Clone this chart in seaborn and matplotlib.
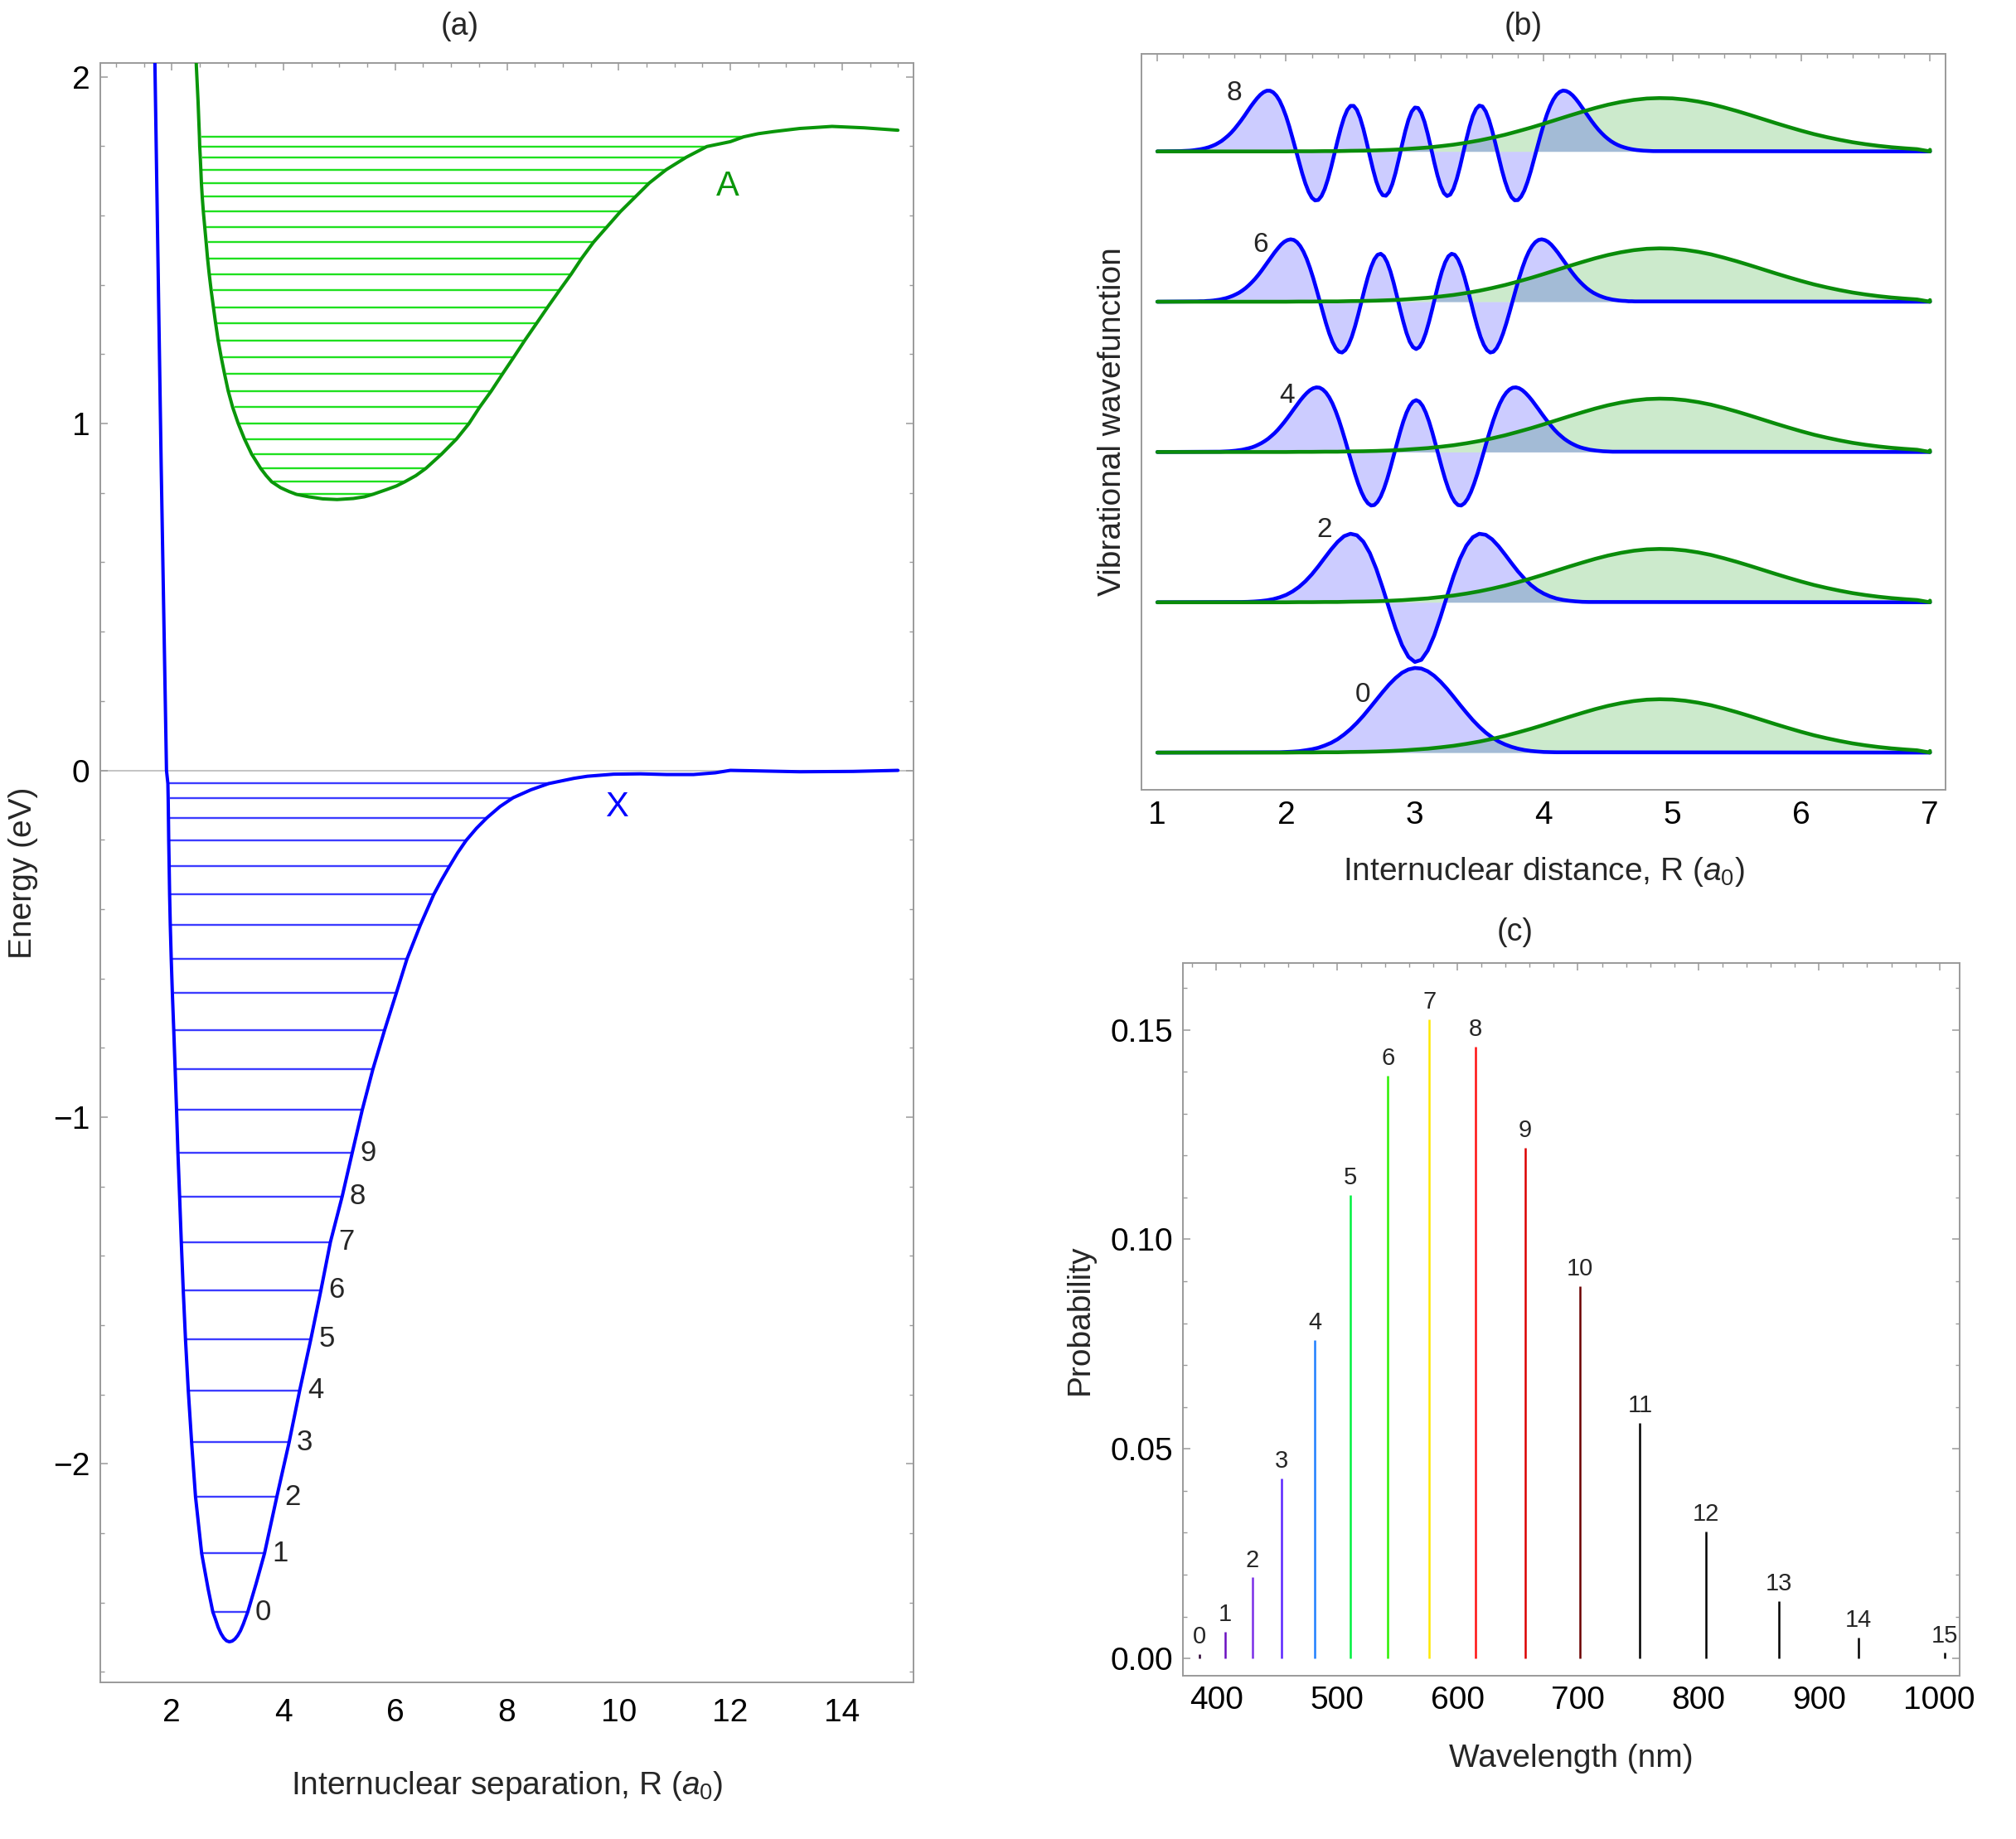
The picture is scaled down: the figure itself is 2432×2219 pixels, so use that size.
import numpy as np
import matplotlib
matplotlib.use("Agg")
import matplotlib.pyplot as plt
import seaborn as sns
from matplotlib.ticker import MultipleLocator, FormatStrFormatter

sns.set_theme(style="white")
plt.rcParams["font.family"] = ["Liberation Sans", "DejaVu Sans"]
plt.rcParams["mathtext.fontset"] = "custom"
plt.rcParams["mathtext.rm"] = "Liberation Sans"
plt.rcParams["mathtext.it"] = "Liberation Sans:italic"

FRAME = "#9a9a9a"

# ---- panel (a): X state (energy in eV, R in a0) ----
x_level_E = [-2.427, -2.258, -2.095, -1.938, -1.788, -1.640, -1.499, -1.360, -1.229, -1.103, -0.979,
             -0.862, -0.749, -0.642, -0.544, -0.446, -0.358, -0.277, -0.202, -0.137, -0.079, -0.038]
x_level_rin = [2.76, 2.56, 2.45, 2.38, 2.32, 2.27, 2.23, 2.195, 2.165, 2.135, 2.11,
               2.085, 2.06, 2.035, 2.015, 1.998, 1.986, 1.978, 1.97, 1.965, 1.96, 1.955]
x_level_rout = [3.36, 3.66, 3.88, 4.10, 4.29, 4.49, 4.67, 4.84, 5.05, 5.23, 5.41,
                5.60, 5.81, 6.02, 6.21, 6.45, 6.69, 6.97, 7.27, 7.64, 8.11, 8.75]
x_curve_R = [1.69, 1.81, 1.905, 1.93, 1.935, 1.94, 1.945, 1.953, 1.961, 1.973, 1.99, 2.01, 2.035, 2.06,
             2.085, 2.11, 2.14, 2.17, 2.205, 2.245, 2.295, 2.355, 2.425, 2.535, 2.65, 2.735, 2.78, 2.83,
             2.88, 2.93, 2.98, 3.03, 3.08, 3.13, 3.18, 3.23, 3.28, 3.33, 3.36, 3.51, 3.66, 3.88, 4.10,
             4.29, 4.49, 4.67, 4.84, 5.05, 5.23, 5.41, 5.60, 5.81, 6.02, 6.21, 6.45, 6.69, 6.83, 6.97,
             7.12, 7.27, 7.455, 7.64, 7.875, 8.11, 8.43, 8.75, 8.96, 9.2, 9.44, 9.91, 10.39, 10.86,
             11.34, 11.73, 12.0, 12.33, 13.24, 14.2, 15.0]
x_curve_E = [2.12, 0.88, 0.0, -0.038, -0.079, -0.137, -0.202, -0.277, -0.358, -0.446, -0.544, -0.642,
             -0.749, -0.862, -0.979, -1.103, -1.229, -1.360, -1.499, -1.640, -1.788, -1.938, -2.095,
             -2.258, -2.36, -2.427, -2.447, -2.471, -2.489, -2.502, -2.510, -2.513, -2.511, -2.505,
             -2.495, -2.481, -2.462, -2.440, -2.427, -2.345, -2.258, -2.095, -1.938, -1.788, -1.640,
             -1.499, -1.360, -1.229, -1.103, -0.979, -0.862, -0.749, -0.642, -0.544, -0.446, -0.358,
             -0.316, -0.277, -0.237, -0.202, -0.167, -0.137, -0.1045, -0.079, -0.056, -0.038, -0.031,
             -0.023, -0.017, -0.011, -0.010, -0.012, -0.012, -0.007, 0.0, -0.001, -0.004, -0.003, 0.0]

# ---- panel (a): A state ----
a_level_E = [0.796, 0.832, 0.871, 0.912, 0.956, 1.000, 1.047, 1.094, 1.143, 1.191, 1.240, 1.289, 1.336,
             1.384, 1.431, 1.477, 1.523, 1.567, 1.611, 1.654, 1.694, 1.732, 1.768, 1.799, 1.827]
a_level_rin = [4.26, 3.82, 3.62, 3.46, 3.33, 3.22, 3.12, 3.04, 2.975, 2.915, 2.86, 2.815, 2.775,
               2.735, 2.70, 2.67, 2.645, 2.62, 2.595, 2.575, 2.56, 2.55, 2.54, 2.532, 2.525]
a_level_rout = [5.60, 6.17, 6.55, 6.83, 7.10, 7.32, 7.51, 7.72, 7.92, 8.12, 8.32, 8.53, 8.73,
                8.94, 9.15, 9.34, 9.55, 9.79, 10.03, 10.30, 10.55, 10.85, 11.21, 11.58, 12.24]
a_curve_R = [2.42, 2.44, 2.47, 2.495, 2.50, 2.51, 2.52, 2.53, 2.545, 2.565, 2.59, 2.615, 2.64, 2.67,
             2.705, 2.745, 2.785, 2.83, 2.885, 2.945, 3.01, 3.09, 3.19, 3.30, 3.43, 3.59, 3.69, 3.79,
             3.95, 4.10, 4.23, 4.45, 4.70, 4.96, 5.25, 5.45, 5.60, 5.85, 6.02, 6.17, 6.37, 6.55, 6.83,
             7.10, 7.32, 7.51, 7.72, 7.92, 8.12, 8.32, 8.53, 8.73, 8.94, 9.15, 9.34, 9.55, 9.79, 10.03,
             10.30, 10.55, 10.85, 11.21, 11.58, 12.0, 12.24, 12.5, 12.77, 13.24, 13.82, 14.39, 15.0]
a_curve_E = [2.12, 2.03, 1.93, 1.827, 1.799, 1.768, 1.732, 1.694, 1.654, 1.611, 1.567, 1.523, 1.477,
             1.431, 1.384, 1.336, 1.289, 1.240, 1.191, 1.143, 1.094, 1.047, 1.000, 0.956, 0.912, 0.871,
             0.850, 0.832, 0.815, 0.804, 0.796, 0.789, 0.783, 0.781, 0.784, 0.789, 0.796, 0.810, 0.820,
             0.832, 0.850, 0.871, 0.912, 0.956, 1.000, 1.047, 1.094, 1.143, 1.191, 1.240, 1.289, 1.336,
             1.384, 1.431, 1.477, 1.523, 1.567, 1.611, 1.654, 1.694, 1.732, 1.768, 1.799, 1.813, 1.827,
             1.836, 1.842, 1.851, 1.857, 1.853, 1.846]

# ---- panel (b): wavefunctions read on a regular R grid, in thousandths of the row spacing ----
v0_start, v0_step = 1.95, 0.05
v0_vals = [2, 4, 6, 9, 15, 22, 32, 47, 65, 89, 120, 156, 198, 245, 297, 350, 403, 453, 496, 531, 553,
           563, 559, 541, 511, 471, 424, 372, 318, 266, 216, 172, 133, 101, 74, 54, 38, 26, 17, 11, 7, 4, 3, 2]
v2_start, v2_step = 1.65, 0.05
v2_vals = [2, 3, 5, 8, 13, 21, 33, 49, 72, 102, 140, 186, 239, 296, 352, 402, 440, 456, 446, 403, 328,
           223, 96, -41, -173, -285, -363, -397, -383, -321, -221, -95, 42, 174, 289, 377, 433, 456, 449,
           419, 373, 318, 261, 206, 158, 116, 83, 58, 39, 25, 16, 10, 6, 3, 2]
v4_start, v4_step = 1.46, 0.025
v4_vals = [2, 2, 3, 4, 5, 7, 9, 12, 15, 20, 25, 31, 39, 49, 60, 73, 88, 106, 125, 147,
           172, 198, 226, 255, 285, 314, 343, 369, 392, 411, 424, 430, 428, 416, 395, 364, 323, 272, 213, 146,
           75, 0, -74, -146, -211, -267, -311, -341, -356, -353, -332, -296, -244, -180, -106, -26, 54, 132, 203, 262,
           307, 335, 345, 335, 307, 262, 203, 132, 54, -26, -106, -180, -244, -296, -332, -353, -356, -341, -311, -267,
           -211, -146, -74, 0, 75, 146, 213, 272, 323, 364, 395, 416, 428, 430, 424, 411, 392, 369, 343, 314,
           285, 255, 226, 198, 172, 147, 125, 106, 88, 73, 60, 49, 39, 31, 25, 20, 15, 12, 9, 7,
           5, 4, 3, 2, 2]
v6_start, v6_step = 1.31, 0.025
v6_vals = [2, 3, 3, 5, 6, 8, 11, 14, 19, 24, 31, 39, 49, 60, 74, 90, 109, 130, 153, 179,
           207, 237, 267, 297, 327, 354, 379, 398, 410, 415, 411, 396, 370, 333, 285, 226, 159, 85, 8, -70,
           -144, -211, -267, -309, -333, -338, -322, -287, -234, -165, -86, -1, 85, 164, 231, 282, 312, 319, 302, 262,
           202, 126, 40, -49, -133, -208, -266, -302, -315, -302, -266, -208, -133, -49, 40, 126, 202, 262, 302, 319,
           312, 282, 231, 164, 85, -1, -86, -165, -234, -287, -322, -338, -333, -309, -267, -211, -144, -70, 8, 85,
           159, 226, 285, 333, 370, 396, 411, 415, 410, 398, 379, 354, 327, 297, 267, 237, 207, 179, 153, 130,
           109, 90, 74, 60, 49, 39, 31, 24, 19, 14, 11, 8, 6, 5, 3, 3, 2]
v8_start, v8_step = 1.175, 0.025
v8_vals = [2, 3, 4, 5, 7, 10, 13, 17, 22, 28, 36, 45, 57, 70, 87, 105, 126, 150, 177, 205,
           235, 267, 298, 327, 354, 377, 394, 404, 404, 393, 371, 337, 290, 233, 165, 89, 10, -70, -146, -214,
           -269, -308, -326, -323, -297, -250, -184, -105, -17, 72, 155, 225, 276, 303, 303, 276, 223, 150, 63, -30,
           -120, -199, -258, -291, -295, -270, -217, -142, -52, 43, 133, 210, 265, 292, 289, 256, 196, 116, 24, -71,
           -158, -229, -277, -297, -287, -248, -184, -103, -11, 81, 166, 236, 283, 305, 299, 267, 212, 139, 54, -35,
           -122, -199, -261, -304, -325, -324, -301, -260, -202, -132, -54, 26, 105, 179, 245, 301, 345, 377, 396, 405,
           402, 391, 373, 349, 321, 291, 260, 229, 199, 171, 145, 122, 101, 83, 67, 54, 43, 34, 27, 21,
           16, 12, 9, 7, 5, 4, 3, 2]
green_start, green_step = 1.0, 0.1
green_vals = [0, 0, 0, 0, 0, 0, 0, 0, 0, 0, 0, 1, 1, 2, 2, 4, 5, 7, 10, 14, 20, 26, 35, 45, 58, 73, 91, 111,
              134, 158, 184, 211, 238, 264, 289, 311, 329, 343, 352, 355, 353, 345, 332, 315, 293, 269, 243,
              216, 189, 163, 138, 115, 95, 77, 61, 48, 37, 28, 21, 15, 11]
wave_levels = [0, 2, 4, 6, 8]
wave_label_pos = [(2.598, 0.386), (2.295, 1.481), (2.004, 2.377), (1.802, 3.38), (1.599, 4.386)]

# ---- panel (c): Franck-Condon probabilities ----
wavelength = [385.8, 407.1, 430.2, 454.5, 481.7, 511.1, 542.5, 576.8, 614.9, 656.4,
              701.7, 751.6, 806.4, 866.8, 933.0, 1004.2]
probability = [0.0011, 0.0063, 0.0193, 0.0430, 0.0759, 0.1105, 0.1390, 0.1525, 0.1459, 0.1219,
               0.0889, 0.0562, 0.0303, 0.0136, 0.0049, 0.0013]
line_colors = ["#2a0033", "#6a10c0", "#7a2ee8", "#5a24ff", "#1f7fff", "#00f040", "#2cf000", "#ffe800",
               "#ff1010", "#dc0000", "#6b0000", "#000000", "#000000", "#000000", "#000000", "#000000"]


def wave(start, step, vals):
    # sampled points, with the flat zero tails out to R = 1 and R = 7
    r = start + step * np.arange(len(vals))
    return np.r_[1.0, r, 7.0], np.r_[0.0, np.array(vals) / 1000, 0.0]


def style(ax, yticks=True):
    for s in ax.spines.values():
        s.set_color(FRAME)
        s.set_linewidth(1.4)
    ax.tick_params(which="both", direction="in", top=True, right=yticks, left=yticks,
                   color=FRAME, labelsize=28, labelcolor="black")
    ax.tick_params(which="major", length=6.5, width=1.1, pad=9)
    ax.tick_params(which="minor", length=3.6, width=1.0)
    ax.grid(False)


fig = plt.figure(figsize=(24.32, 22.19), dpi=100)
ax_a = fig.add_axes([0.04975, 0.08517, 0.4034, 0.8806])
ax_b = fig.add_axes([0.5664, 0.5705, 0.3986, 0.4002])
ax_c = fig.add_axes([0.5869, 0.08887, 0.3852, 0.3876])

# Panel (a): potential curves and vibrational levels
ax_a.axhline(0, color="#b4b4b4", lw=1.1, zorder=0)
ax_a.hlines(x_level_E, x_level_rin, x_level_rout, color="#3c3cff", lw=1.7, zorder=2)
ax_a.hlines(a_level_E, a_level_rin, a_level_rout, color="#1fe01f", lw=1.7, zorder=2)
sns.lineplot(x=x_curve_R, y=x_curve_E, ax=ax_a, color="#0000ff", lw=2.9, sort=False, estimator=None, zorder=3)
sns.lineplot(x=a_curve_R, y=a_curve_E, ax=ax_a, color="#0a960a", lw=2.9, sort=False, estimator=None, zorder=3)
for v in range(10):
    ax_a.text(x_level_rout[v] + 0.28, x_level_E[v], str(v), fontsize=25, ha="center", va="center")
ax_a.text(11.95, 1.683, "A", color="#0a960a", fontsize=30, ha="center", va="center")
ax_a.text(9.97, -0.107, "X", color="#0000ff", fontsize=30, ha="center", va="center")
ax_a.set_xlim(0.72, 15.28)
ax_a.set_ylim(-2.63, 2.04)
ax_a.xaxis.set_major_locator(MultipleLocator(2))
ax_a.xaxis.set_minor_locator(MultipleLocator(0.5))
ax_a.yaxis.set_major_locator(MultipleLocator(1))
ax_a.yaxis.set_minor_locator(MultipleLocator(0.2))
style(ax_a)
ax_a.tick_params(axis="x", which="major", pad=14)

# Panel (b): stacked wavefunctions, X-state (blue) against A-state v=0 (green)
rg, gv = wave(green_start, green_step, green_vals)
curves = [wave(v0_start, v0_step, v0_vals), wave(v2_start, v2_step, v2_vals),
          wave(v4_start, v4_step, v4_vals), wave(v6_start, v6_step, v6_vals),
          wave(v8_start, v8_step, v8_vals)]
for k, (rb, wb) in enumerate(curves):
    ax_b.fill_between(rg, k, gv + k, color="#009900", alpha=0.2, lw=0)
    ax_b.fill_between(rb, k, wb + k, color="#0000ff", alpha=0.2, lw=0)
    sns.lineplot(x=rb, y=wb + k, ax=ax_b, color="#0000ff", lw=3.3, estimator=None)
    sns.lineplot(x=rg, y=gv + k, ax=ax_b, color="#0a8c0a", lw=3.3, estimator=None)
for v, (rx, ry) in zip(wave_levels, wave_label_pos):
    ax_b.text(rx, ry, str(v), fontsize=24, ha="center", va="center")
ax_b.set_xlim(0.88, 7.12)
ax_b.set_ylim(-0.248, 4.649)
ax_b.set_yticks([])
ax_b.xaxis.set_major_locator(MultipleLocator(1))
ax_b.xaxis.set_minor_locator(MultipleLocator(0.2))
style(ax_b, yticks=False)

# Panel (c): emission spectrum sticks
ax_c.vlines(wavelength, 0, probability, colors=line_colors, lw=1.8)
for i, (wl, p) in enumerate(zip(wavelength, probability)):
    ax_c.annotate(str(i), (wl, p), xytext=(0, 5), textcoords="offset points",
                  ha="center", va="bottom", fontsize=21)
ax_c.set_xlim(372.6, 1016.8)
ax_c.set_ylim(-0.0041, 0.166)
ax_c.xaxis.set_major_locator(MultipleLocator(100))
ax_c.xaxis.set_minor_locator(MultipleLocator(20))
ax_c.yaxis.set_major_locator(MultipleLocator(0.05))
ax_c.yaxis.set_minor_locator(MultipleLocator(0.01))
ax_c.yaxis.set_major_formatter(FormatStrFormatter("%.2f"))
style(ax_c)

W, H = 2432, 2219
fig.text(555 / W, 1 - 32 / H, "(a)", fontsize=27, ha="center", va="center")
fig.text(1838 / W, 1 - 32 / H, "(b)", fontsize=27, ha="center", va="center")
fig.text(1828 / W, 1 - 1125 / H, "(c)", fontsize=27, ha="center", va="center")
fig.text(612 / W, 1 - 2165 / H, "Internuclear separation, R ($a_0$)", fontsize=28, ha="center", va="baseline")
fig.text(1862 / W, 1 - 1062 / H, "Internuclear distance, R ($a_0$)", fontsize=28, ha="center", va="baseline")
fig.text(1895 / W, 1 - 2132 / H, "Wavelength (nm)", fontsize=28, ha="center", va="baseline")
fig.text(28 / W, 1 - 1053 / H, "Energy (eV)", fontsize=28, ha="center", va="center", rotation=90)
fig.text(1342 / W, 1 - 509 / H, "Vibrational wavefunction", fontsize=28, ha="center", va="center", rotation=90)
fig.text(1303 / W, 1 - 1592 / H, "Probability", fontsize=28, ha="center", va="center", rotation=90)

fig.savefig("out.png", dpi=100, facecolor="white")
